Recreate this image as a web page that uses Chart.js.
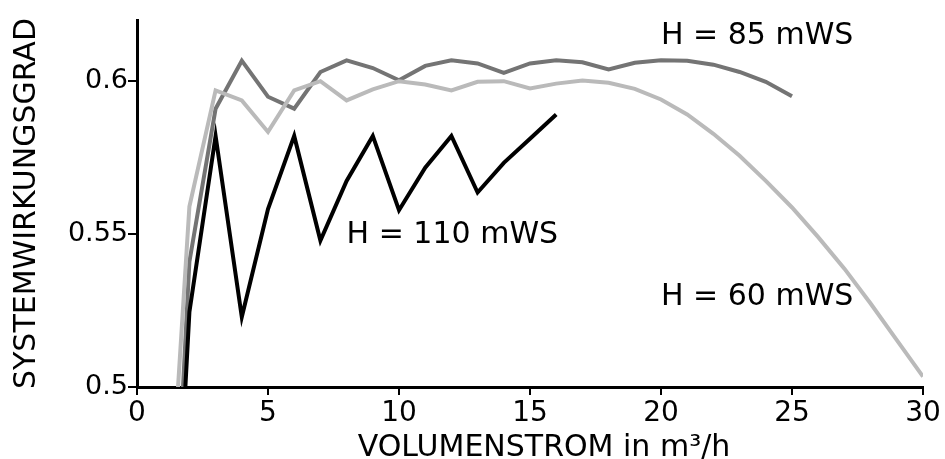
<!DOCTYPE html>
<html>
<head>
<meta charset="utf-8">
<title>Systemwirkungsgrad</title>
<script src="https://cdn.jsdelivr.net/npm/chart.js@4.4.1/dist/chart.umd.min.js"></script>
<style>
    html, body { margin: 0; padding: 0; background: #fff; }
    #wrap { width: 945px; height: 459px; }
</style>
</head>
<body>
<div id="wrap"><canvas id="effChart" width="945" height="459"></canvas></div>
<script>
// volume flow in m³/h
var flow = [1.5, 2, 3, 4, 5, 6, 7, 8, 9, 10, 11, 12, 13, 14, 15, 16, 17, 18, 19, 20,
            21, 22, 23, 24, 25, 26, 27, 28, 29, 30];

// system efficiency per head
var eta85 = [0.457, 0.541, 0.591, 0.6067, 0.5949, 0.591, 0.603, 0.6068, 0.6043, 0.6003,
             0.605, 0.6068, 0.6058, 0.6027, 0.6058, 0.6068, 0.6062, 0.6038, 0.606, 0.6068,
             0.6067, 0.6054, 0.603, 0.5998, 0.5951];
var eta60 = [0.491, 0.559, 0.597, 0.5937, 0.5834, 0.597, 0.6, 0.5937, 0.5973, 0.6,
             0.5989, 0.597, 0.5998, 0.6, 0.5976, 0.5992, 0.6002, 0.5995, 0.5975, 0.594,
             0.5891, 0.5828, 0.5756, 0.5674, 0.5587, 0.549, 0.5387, 0.5273, 0.5153, 0.5034];
var eta110 = [0.445, 0.5245, 0.5821, 0.5229, 0.5582, 0.5821, 0.5479, 0.5674, 0.5821, 0.5578,
              0.5717, 0.5821, 0.5636, 0.5733, 0.5812, 0.5891];

var xTicks = [0, 5, 10, 15, 20, 25, 30];
var yTicks = [0.5, 0.55, 0.6];

// curve labels, anchored in data units (left edge, vertical middle)
var labelText = ['H = 85 mWS', 'H = 110 mWS', 'H = 60 mWS'];
var labelX = [20, 8, 20];
var labelY = [0.6147, 0.5495, 0.5293];

var xTitle = 'VOLUMENSTROM in m³/h';

var FONT = '"DejaVu Sans", Verdana, sans-serif';

function points(ys) {
    return ys.map(function (y, i) { return { x: flow[i], y: y }; });
}

// curve labels plus the x axis title (sits a bit right of centre)
var curveLabels = {
    id: 'curveLabels',
    afterDatasetsDraw: function (chart) {
        var ctx = chart.ctx;
        var xs = chart.scales.x, ys = chart.scales.y;
        var area = chart.chartArea;
        ctx.save();
        ctx.font = '30px ' + FONT;
        ctx.fillStyle = '#000';
        ctx.textAlign = 'left';
        ctx.textBaseline = 'middle';
        for (var i = 0; i < labelText.length; i++) {
            ctx.fillText(labelText[i], xs.getPixelForValue(labelX[i]), ys.getPixelForValue(labelY[i]));
        }
        ctx.textAlign = 'center';
        ctx.fillText(xTitle, (area.left + area.right) / 2 + 14, chart.height - 11);
        ctx.restore();
    }
};

var line = {
    tension: 0,
    borderWidth: 4,
    pointRadius: 0,
    borderCapStyle: 'butt',
    borderJoinStyle: 'miter',
    fill: false,
    clip: 0
};

new Chart(document.getElementById('effChart'), {
    type: 'line',
    data: {
        datasets: [
            Object.assign({ label: 'H = 110 mWS', data: points(eta110), borderColor: '#000000', order: 0 }, line),
            Object.assign({ label: 'H = 60 mWS', data: points(eta60), borderColor: '#bababa', order: 1 }, line),
            Object.assign({ label: 'H = 85 mWS', data: points(eta85), borderColor: '#747474', order: 2 }, line)
        ]
    },
    options: {
        responsive: false,
        animation: false,
        events: [],
        layout: { padding: { top: 20, right: 22, left: 0, bottom: 0 } },
        plugins: {
            legend: { display: false },
            tooltip: { enabled: false }
        },
        scales: {
            x: {
                type: 'linear',
                min: 0,
                max: 30,
                afterBuildTicks: function (scale) {
                    scale.ticks = xTicks.map(function (v) { return { value: v }; });
                },
                afterFit: function (scale) { scale.height = 72; },
                border: { display: true, color: '#000', width: 3 },
                grid: { drawOnChartArea: false, color: '#000', lineWidth: 2, tickLength: 8 },
                ticks: {
                    color: '#000',
                    padding: 2,
                    maxRotation: 0,
                    font: { family: FONT, size: 28 },
                    callback: function (v) { return String(v); }
                }
            },
            y: {
                type: 'linear',
                min: 0.5,
                max: 0.62,
                afterBuildTicks: function (scale) {
                    scale.ticks = yTicks.map(function (v) { return { value: v }; });
                },
                afterFit: function (scale) { scale.width = 137; },
                border: { display: true, color: '#000', width: 3 },
                grid: { drawOnChartArea: false, color: '#000', lineWidth: 2, tickLength: 9 },
                ticks: {
                    color: '#000',
                    padding: 0,
                    font: { family: FONT, size: 27 },
                    callback: function (v) { return String(+v.toFixed(2)); }
                },
                title: {
                    display: true,
                    text: 'SYSTEMWIRKUNGSGRAD',
                    color: '#000',
                    font: { family: FONT, size: 30, lineHeight: 1 },
                    padding: { top: 12, bottom: 0 }
                }
            }
        }
    },
    plugins: [curveLabels]
});
</script>
</body>
</html>
